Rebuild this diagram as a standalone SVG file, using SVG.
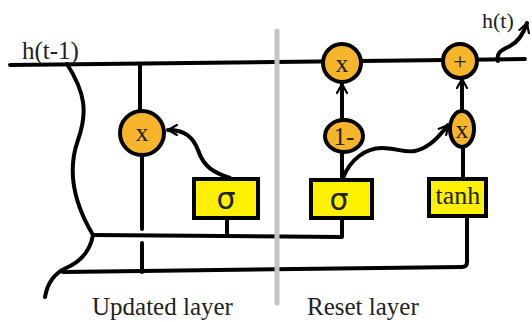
<svg xmlns="http://www.w3.org/2000/svg" width="532" height="322" viewBox="0 0 532 322">
<style>
.ln{fill:none;stroke:#000;stroke-width:4;stroke-linecap:round;stroke-linejoin:round}
.op{fill:#F6B52B;stroke:#000;stroke-width:4}
.bx{fill:#FFF000;stroke:#000;stroke-width:4}
.t{font-family:"Liberation Serif","Times New Roman",serif;fill:#222;text-anchor:middle}
.sg{font-family:"DejaVu Sans",sans-serif;fill:#222;text-anchor:middle;font-size:30px}
.lbl{font-family:"Liberation Serif","Times New Roman",serif;fill:#222}
</style>
<defs>
<marker id="chev" viewBox="0 0 12 12" refX="10" refY="6" markerWidth="12" markerHeight="12" markerUnits="userSpaceOnUse" orient="auto">
<path d="M1,1 L10,6 L1,11" fill="none" stroke="#000" stroke-width="2.2" stroke-linecap="round" stroke-linejoin="round"/>
</marker>
</defs>
<g id="connectors">
<path class="ln" d="M10,65 L525,59"/>
<path class="ln" d="M67,64 C85,92 88,112 78,140 C68,168 72,200 93,235 C90,252 80,262 66,268 C53,274 47,285 45,297"/>
<path class="ln" d="M93,235 L342,237 L342,218"/>
<path class="ln" d="M63,272 L462,267 Q467,267 467,262 L467,217"/>
<path class="ln" d="M140,64 L140,111"/>
<path class="ln" d="M142,155 L142,229"/>
<path class="ln" d="M142,243 L142,272"/>
<path class="ln" d="M227,218 L227,235"/>
<path class="ln" d="M230,178 C215,173 204,168 198,150 C193,137 185,130 168,130" marker-end="url(#chev)"/>
<path class="ln" d="M342,178 L342,152"/>
<path class="ln" d="M342,120 L342,84" marker-end="url(#chev)"/>
<path class="ln" d="M343,178 C350,160 365,148 382,148 C395,148 405,153 415,151 C430,148 440,135 448,125" marker-end="url(#chev)"/>
<path class="ln" d="M463,178 L463,148"/>
<path class="ln" d="M462,110 L462,79" marker-end="url(#chev)"/>
<path class="ln" d="M498,61 C496,52 502,50 510,46 C518,42 523,35 527,23" marker-end="url(#chev)"/>
</g>
<g id="n_x1">
<circle class="op" cx="142" cy="133" r="22"/>
<text class="t" x="142" y="141" font-size="26">x</text>
</g>
<g id="n_sig1">
<rect class="bx" x="194" y="179" width="64" height="39"/>
<text class="sg" x="226" y="209">σ</text>
</g>
<g id="n_x2">
<circle class="op" cx="342" cy="63" r="19"/>
<text class="t" x="342" y="72" font-size="26">x</text>
</g>
<g id="n_1minus">
<ellipse class="op" cx="344" cy="136" rx="19" ry="16"/>
<text class="t" x="344" y="145" font-size="25">1-</text>
</g>
<g id="n_sig2">
<rect class="bx" x="311" y="180" width="61" height="38"/>
<text class="sg" x="339" y="210">σ</text>
</g>
<g id="n_plus">
<circle class="op" cx="460" cy="61" r="17"/>
<text class="t" x="460" y="69" font-size="24">+</text>
</g>
<g id="n_x3">
<ellipse class="op" cx="462" cy="129" rx="12" ry="18"/>
<text class="t" x="462" y="138" font-size="26">x</text>
</g>
<g id="n_tanh">
<rect class="bx" x="429" y="179" width="57" height="37"/>
<text class="t" x="458" y="204" font-size="26">tanh</text>
</g>
<line x1="277" y1="31" x2="277" y2="303" stroke="#C4C4C4" stroke-width="5" stroke-linecap="round"/>
<text class="lbl" x="22" y="59" font-size="25">h(t-1)</text>
<text class="lbl" x="482" y="28" font-size="22">h(t)</text>
<text class="lbl" x="92" y="315" font-size="25">Updated layer</text>
<text class="lbl" x="307" y="315" font-size="25">Reset layer</text>
</svg>
